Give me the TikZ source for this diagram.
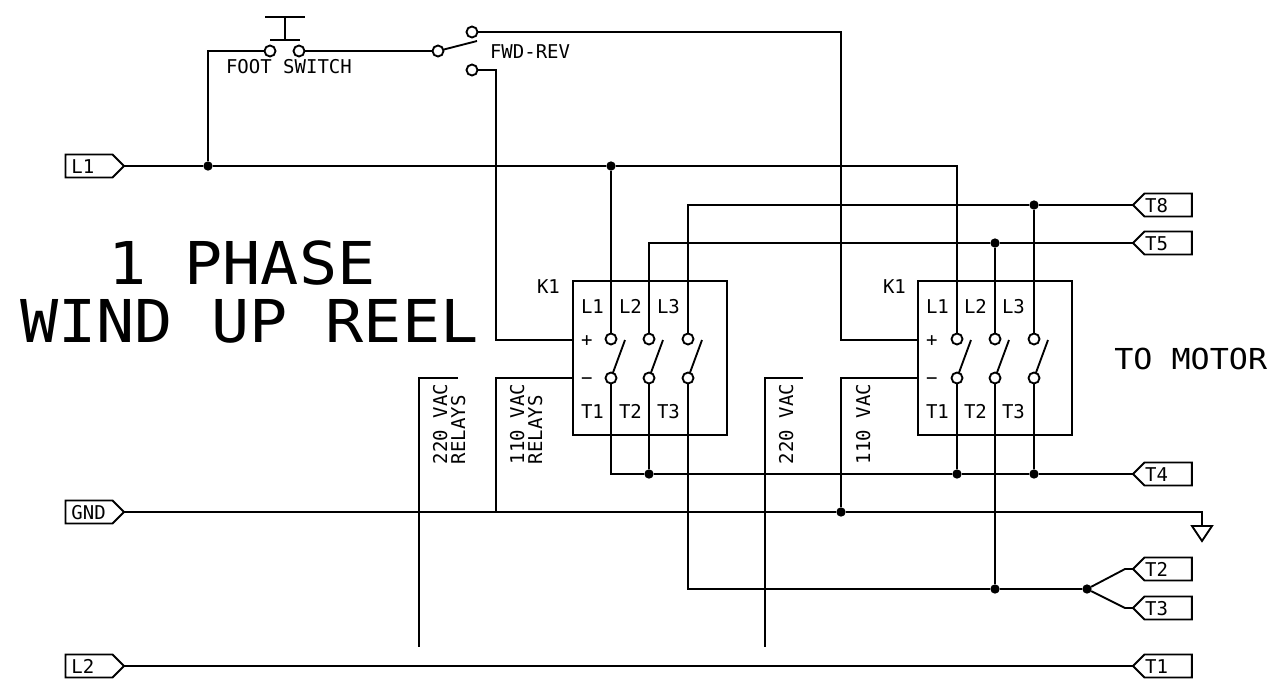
\documentclass[tikz,border=0pt]{standalone}
\usepackage{fontspec}
\setmainfont{DejaVu Sans Mono}
\usetikzlibrary{shapes.symbols}
\newcommand{\smalltxt}{\fontsize{14.25pt}{16pt}\selectfont}
\newcommand{\midtxt}{\fontsize{23.8pt}{26pt}\selectfont}
\newcommand{\bigtxt}{\fontsize{47.6pt}{50pt}\selectfont}
\tikzset{
  wire/.style={line width=1.4pt,line join=miter},
  portbase/.style={draw,line width=1.4pt,signal,signal from=nowhere,signal pointer angle=90,
    outer sep=0pt,inner ysep=3.4pt,minimum height=17.25pt,text height=10.5pt,text depth=0pt,
    align=left,font=\smalltxt},
  inport/.style={portbase,signal to=east,inner xsep=4.5pt,text width=26.25pt},
  outport/.style={portbase,signal to=west,inner xsep=0.5pt,text width=34.5pt},
  contact/.style={draw,circle,line width=1.4pt,minimum size=8.25pt,inner sep=0pt,outer sep=0pt,fill=white},
  dot/.style={fill,circle,minimum size=7pt,inner sep=0pt,outer sep=0pt},
  relaybox/.style={draw,line width=1.4pt,minimum width=115.5pt,minimum height=115.5pt,inner sep=0pt,outer sep=0pt},
  lbl/.style={anchor=base west,inner sep=0pt,outer sep=0pt,font=\smalltxt},
  vlbl/.style={anchor=base west,rotate=90,inner sep=0pt,outer sep=0pt,font=\smalltxt},
  title/.style={anchor=base west,inner sep=0pt,outer sep=0pt,font=\bigtxt}
}
\begin{document}
\begin{tikzpicture}[x=0.75pt,y=-0.75pt]
\useasboundingbox (0,0) rectangle (1274,687);
% ports
\node[inport,anchor=east] (L1) at (124,166) {L1};
\node[inport,anchor=east] (GND) at (124,512) {GND};
\node[inport,anchor=east] (L2) at (124,666) {L2};
\node[outport,anchor=west] (T8) at (1133,205) {T8};
\node[outport,anchor=west] (T5) at (1133,243) {T5};
\node[outport,anchor=west] (T4) at (1133,474) {T4};
\node[outport,anchor=west] (T2) at (1133,569) {T2};
\node[outport,anchor=west] (T3) at (1133,608) {T3};
\node[outport,anchor=west] (T1) at (1133,666) {T1};
% relay boxes
\node[relaybox] (K1a) at (650,358) {};
\node[relaybox] (K1b) at (995,358) {};
% foot switch and selector
\node[contact] (fs1) at (270,51) {};
\node[contact] (fs2) at (299,51) {};
\node[contact] (sw0) at (438,51) {};
\node[contact] (sw1) at (472,32) {};
\node[contact] (sw2) at (472,70) {};
\coordinate (btnTopL) at (265,17);
\coordinate (btnTopR) at (305,17);
\coordinate (btnTopM) at (285,17);
\coordinate (btnLowM) at (285,40);
\coordinate (btnLowL) at (270,40);
\coordinate (btnLowR) at (300,40);
\coordinate (swTip) at (477,41);
% contacts
\foreach \n/\x in {a1/611,a2/649,a3/688,b1/957,b2/995,b3/1034}{
  \node[contact] (u\n) at (\x,339) {};
  \node[contact] (d\n) at (\x,378) {};
  \coordinate (t\n) at (\x+14,340);
}
% junctions
\node[dot] (ja) at (208,166) {};
\node[dot] (jb) at (611,166) {};
\node[dot] (jc) at (1034,205) {};
\node[dot] (jd) at (995,243) {};
\node[dot] (je) at (649,474) {};
\node[dot] (jf) at (957,474) {};
\node[dot] (jg) at (1034,474) {};
\node[dot] (jh) at (841,512) {};
\node[dot] (ji) at (995,589) {};
\node[dot] (jj) at (1087,589) {};
% free wire points
\coordinate (gndEnd) at (1202,512);
\coordinate (gndTop) at (1202,526);
\coordinate (gndL) at (1192,526);
\coordinate (gndR) at (1212,526);
\coordinate (gndB) at (1202,541);
\coordinate (a220e) at (458,378);
\coordinate (a220c) at (419,378);
\coordinate (a220b) at (419,647);
\coordinate (b220e) at (803,378);
\coordinate (b220c) at (765,378);
\coordinate (b220b) at (765,647);
\coordinate (t2k) at (1125,569);
\coordinate (t3k) at (1125,608);
% wires
\begin{scope}[wire]
\draw (L1.east) -- (ja) -- (jb) -- (957,166) -- (ub1.north);
\draw (ja) -- (208,51) -- (fs1.west);
\draw (jb) -- (ua1.north);
\draw (btnTopL) -- (btnTopR);
\draw (btnTopM) -- (btnLowM);
\draw (btnLowL) -- (btnLowR);
\draw (fs2.east) -- (sw0.west);
\draw (sw0) -- (swTip);
\draw (sw1.east) -- (841,32) -- (841,340) -- (K1b.west |- 841,340);
\draw (sw2.east) -- (496,70) -- (496,340) -- (K1a.west |- 496,340);
\draw (K1a.west |- 496,378) -- (496,378) -- (496,512);
\draw (K1b.west |- 841,378) -- (841,378) -- (jh);
\draw (GND.east) -- (jh) -- (gndEnd) -- (gndTop);
\draw (gndL) -- (gndR) -- (gndB) -- cycle;
\draw (a220e) -- (a220c) -- (a220b);
\draw (b220e) -- (b220c) -- (b220b);
\draw (T8.west) -- (jc) -- (688,205) -- (ua3.north);
\draw (jc) -- (ub3.north);
\draw (T5.west) -- (jd) -- (649,243) -- (ua2.north);
\draw (jd) -- (ub2.north);
\draw (T4.west) -- (jg) -- (jf) -- (je) -- (611,474) -- (da1.south);
\draw (je) -- (da2.south);
\draw (jf) -- (db1.south);
\draw (jg) -- (db3.south);
\draw (db2.south) -- (ji);
\draw (da3.south) -- (688,589) -- (ji) -- (jj);
\draw (jj) -- (t2k) -- (T2.west);
\draw (jj) -- (t3k) -- (T3.west);
\draw (L2.east) -- (T1.west);
\foreach \n in {a1,a2,a3,b1,b2,b3}{\draw (d\n) -- (t\n);}
\end{scope}
% text
\node[lbl] (tfoot) at (226,73) {FOOT SWITCH};
\node[lbl] (tfwd) at (490,58) {FWD-REV};
\node[lbl] (tk1a) at (537,293) {K1};
\node[lbl] (tk1b) at (883,293) {K1};
\foreach \o/\p in {0/a,345/b}{
  \node[lbl] (l1\p) at (581+\o,313) {L1};
  \node[lbl] (l2\p) at (619+\o,313) {L2};
  \node[lbl] (l3\p) at (657+\o,313) {L3};
  \node[lbl] (tt1\p) at (581+\o,418) {T1};
  \node[lbl] (tt2\p) at (619+\o,418) {T2};
  \node[lbl] (tt3\p) at (657+\o,418) {T3};
  \node[lbl] (pl\p) at (581+\o,346) {+};
  \node[lbl] (mi\p) at (581+\o,384) {−};
}
\node[vlbl] (v1) at (447,464) {220 VAC};
\node[vlbl] (v2) at (465,464) {RELAYS};
\node[vlbl] (v3) at (524,464) {110 VAC};
\node[vlbl] (v4) at (542,464) {RELAYS};
\node[vlbl] (v5) at (793,464) {220 VAC};
\node[vlbl] (v6) at (870,464) {110 VAC};
\node[anchor=base west,inner sep=0pt,font=\midtxt] (tmotor) at (1114,369) {\scalebox{1}[0.91]{TO MOTOR}};
\node[title] (ttl1) at (108,284) {\scalebox{1}[0.93]{1 PHASE}};
\node[title] (ttl2) at (20,342) {\scalebox{1}[0.93]{WIND UP REEL}};
\end{tikzpicture}
\end{document}
